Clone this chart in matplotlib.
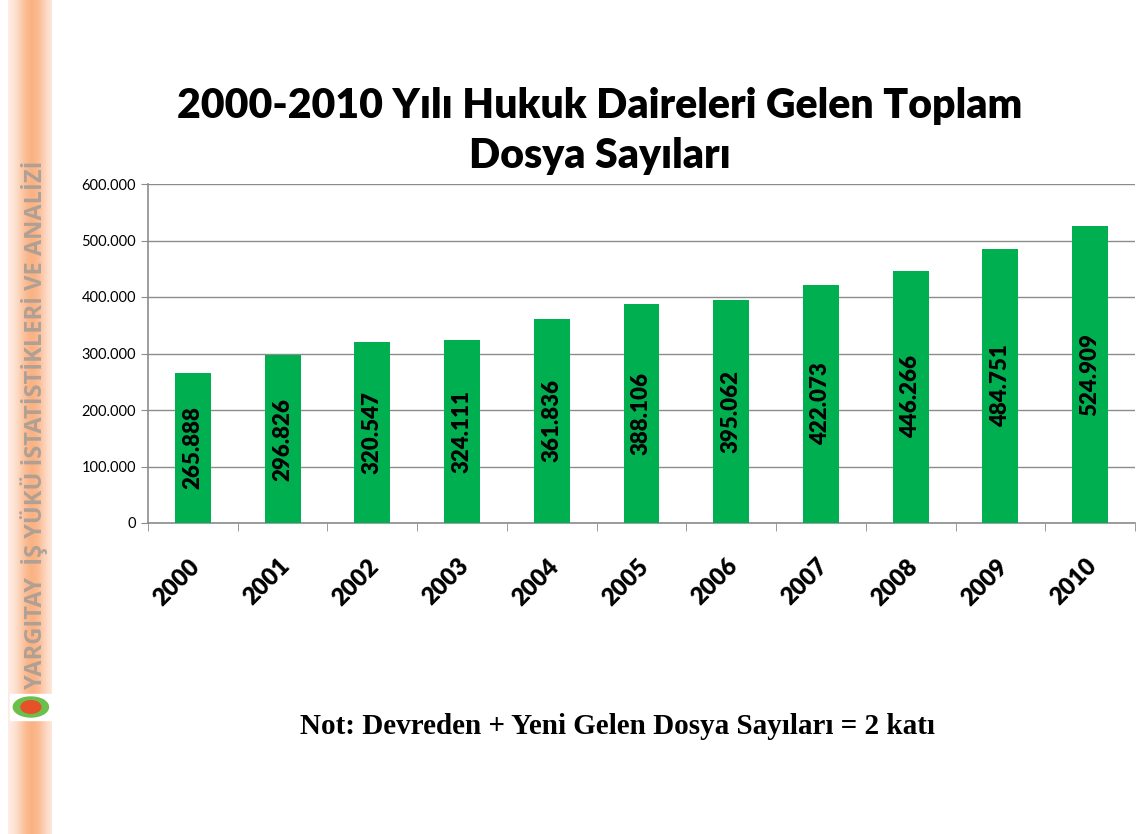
import numpy as np
import matplotlib
matplotlib.use('Agg')
import matplotlib.pyplot as plt
from matplotlib.patches import Ellipse, Rectangle

years = ["2000", "2001", "2002", "2003", "2004", "2005", "2006", "2007", "2008", "2009", "2010"]
values = [265888, 296826, 320547, 324111, 361836, 388106, 395062, 422073, 446266, 484751, 524909]
yticks = [0, 100000, 200000, 300000, 400000, 500000, 600000]

def tr(v):
    # turkish thousands separator
    return "0" if v == 0 else f"{v:,}".replace(",", ".")

fig = plt.figure(figsize=(11.37, 8.34), dpi=100)

# decorative side stripe
sax = fig.add_axes([8/1137, 0, 44/1137, 1])
grad = np.linspace(0, 1, 64)
prof = np.exp(-((grad - 0.55) / 0.35) ** 2)
c_edge = np.array([1.0, 0.95, 0.93])
c_mid = np.array([0.98, 0.70, 0.52])
row = c_edge[None, :] * (1 - prof[:, None]) + c_mid[None, :] * prof[:, None]
sax.imshow(np.repeat(row[None, :, :], 2, axis=0), aspect='auto', extent=[0, 1, 0, 1])
sax.text(0.6, 1 - 425/834, "YARGITAY  İŞ YÜKÜ İSTATİSTİKLERİ VE ANALİZİ", rotation=90,
         ha='center', va='center', fontsize=17, fontweight='bold', color='#a39c96',
         family='Open Sans', alpha=0.85)
sax.add_patch(Rectangle((0.05, 1 - 720/834), 0.95, 26/834, color='white'))
sax.add_patch(Ellipse((0.52, 1 - 707/834), 0.8, 0.024, color='#6cbf4a'))
sax.add_patch(Ellipse((0.52, 1 - 707/834), 0.45, 0.015, color='#e8502a'))
sax.set_xlim(0, 1); sax.set_ylim(0, 1)
sax.axis('off')

ax = fig.add_axes([148/1137, 1 - 523/834, (1135 - 148)/1137, (523 - 184)/834])
x = np.arange(len(years))
ax.bar(x, values, width=0.4, color='#00B050', zorder=3)
for xi, v in zip(x, values):
    ax.text(xi, v / 2, tr(v), rotation=90, ha='center', va='center',
            fontsize=16, fontweight='heavy', family='Lato', color='black', zorder=4)

ax.set_xlim(-0.5, len(years) - 0.5)
ax.set_ylim(0, 600000)
ax.set_yticks(yticks)
ax.set_yticklabels([tr(v) for v in yticks], family='Lato', fontsize=10.5)
ax.yaxis.grid(True, color='#8c8c8c', linewidth=1.0, zorder=0)
ax.set_xticks(x - 0.05)
ax.set_xticklabels(years, rotation=45, ha='right', va='top', rotation_mode='anchor',
                   fontsize=17, fontweight='heavy', family='Lato')
ax.set_xticks(np.arange(-0.5, len(years)), minor=True)
ax.tick_params(axis='x', which='major', length=0, pad=23)
ax.tick_params(axis='x', which='minor', length=6, color='#8c8c8c')
ax.tick_params(axis='y', length=5, color='#8c8c8c')
for s in ['top', 'right']:
    ax.spines[s].set_visible(False)
for s in ['left', 'bottom']:
    ax.spines[s].set_color('#8c8c8c')
    ax.spines[s].set_linewidth(1.2)

fig.text(600/1137, 1 - 131/834, "2000-2010 Yılı Hukuk Daireleri Gelen Toplam\nDosya Sayıları",
         ha='center', va='center', fontsize=29.5, fontweight='heavy', family='Lato',
         linespacing=1.4)
fig.text(617/1137, 1 - 726/834, "Not: Devreden + Yeni Gelen Dosya Sayıları = 2 katı",
         ha='center', va='center', fontsize=21, fontweight='bold', family='Liberation Serif')

fig.savefig("out.png", dpi=100)
